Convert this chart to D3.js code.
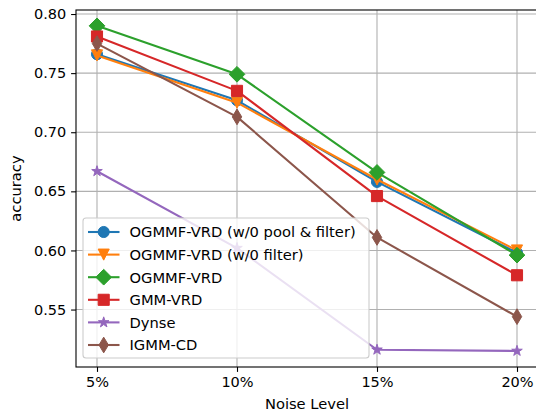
<!DOCTYPE html>
<html><head><meta charset="utf-8">
<script src="https://cdn.jsdelivr.net/npm/d3@7"></script>
<style>body{margin:0;background:#fff}svg{display:block}text{font-family:"DejaVu Sans",sans-serif;fill:#000}</style>
</head><body><svg id="c" width="536" height="412"></svg>
<script>
const categories = ["5%", "10%", "15%", "20%"];
const seriesNames = ["OGMMF-VRD (w/0 pool & filter)", "OGMMF-VRD (w/0 filter)", "OGMMF-VRD", "GMM-VRD", "Dynse", "IGMM-CD"];
const blueVals   = [0.766, 0.727, 0.658, 0.598];
const orangeVals = [0.765, 0.725, 0.660, 0.600];
const greenVals  = [0.790, 0.749, 0.666, 0.596];
const redVals    = [0.781, 0.735, 0.646, 0.579];
const purpleVals = [0.667, 0.602, 0.516, 0.515];
const brownVals  = [0.775, 0.713, 0.611, 0.544];
const yTicks = [0.55, 0.60, 0.65, 0.70, 0.75, 0.80];
const colors = ["#1f77b4", "#ff7f0e", "#2ca02c", "#d62728", "#9467bd", "#8c564b"];
const markers = ["o", "v", "D", "s", "*", "d"];
const allVals = [blueVals, orangeVals, greenVals, redVals, purpleVals, brownVals];

const svg = d3.select("#c");
const L = 76, R = 538, T = 10, B = 367;
const x = d3.scaleLinear().domain([-0.15, 3.15]).range([L, R]);
const y = d3.scaleLinear().domain([0.5014, 0.8034]).range([B, T]);
const FS = "14.7px", TFS = "14.5px";

const ms = 11.1;
function markerPath(m) {
  const h = ms / 2;
  switch (m) {
    case "o": return d3.symbol(d3.symbolCircle, Math.PI * h * h)();
    case "s": return `M${-h},${-h}L${h},${-h}L${h},${h}L${-h},${h}Z`;
    case "v": return `M0,${h}L${-h},${-h}L${h},${-h}Z`;
    case "D": { const d = h * Math.SQRT2; return `M0,${-d}L${d},0L0,${d}L${-d},0Z`; }
    case "d": { const d = h * Math.SQRT2, w = d * 0.6; return `M0,${-d}L${w},0L0,${d}L${-w},0Z`; }
    case "*": {
      const ro = h, ri = h * 0.381966; let p = "";
      for (let i = 0; i < 10; i++) {
        const r = i % 2 ? ri : ro, a = -Math.PI / 2 + i * Math.PI / 5;
        p += (i ? "L" : "M") + (r * Math.cos(a)).toFixed(3) + "," + (r * Math.sin(a)).toFixed(3);
      }
      return p + "Z";
    }
  }
}

// grid
const g = svg.append("g");
g.selectAll(".gx").data(categories).join("line")
  .attr("x1", (d, i) => x(i)).attr("x2", (d, i) => x(i)).attr("y1", T).attr("y2", B)
  .attr("stroke", "#b0b0b0").attr("stroke-width", 1.1);
g.selectAll(".gy").data(yTicks).join("line")
  .attr("x1", L).attr("x2", R).attr("y1", d => y(d)).attr("y2", d => y(d))
  .attr("stroke", "#b0b0b0").attr("stroke-width", 1.1);

// axes
const xAxis = d3.axisBottom(x).tickValues([0, 1, 2, 3]).tickFormat(i => categories[i]).tickSize(4.9).tickPadding(4.9);
const yAxis = d3.axisLeft(y).tickValues(yTicks).tickFormat(d3.format(".2f")).tickSize(4.9).tickPadding(4.9);
const gx = svg.append("g").attr("transform", `translate(0,${B})`).call(xAxis);
const gy = svg.append("g").attr("transform", `translate(${L},0)`).call(yAxis);
[gx, gy].forEach(a => {
  a.select(".domain").remove();
  a.selectAll("line").attr("stroke", "#000").attr("stroke-width", 1.1);
  a.selectAll("text").attr("font-size", TFS).attr("font-family", "DejaVu Sans").attr("fill", "#000");
});
gx.selectAll("text").attr("dy", "0.71em");

// lines + markers
const line = d3.line().x((d, i) => x(i)).y(d => y(d));
allVals.forEach((vals, k) => {
  const s = svg.append("g");
  s.append("path").attr("d", line(vals)).attr("fill", "none").attr("stroke", colors[k]).attr("stroke-width", 2.08).attr("stroke-linejoin", "round");
  s.selectAll("path.m").data(vals).join("path").attr("class", "m")
    .attr("d", markerPath(markers[k])).attr("transform", (d, i) => `translate(${x(i)},${y(d)})`)
    .attr("fill", colors[k]).attr("stroke", colors[k]).attr("stroke-width", 1);
});

// spines
svg.append("rect").attr("x", L).attr("y", T).attr("width", R - L).attr("height", B - T)
  .attr("fill", "none").attr("stroke", "#000").attr("stroke-width", 1.1);

// legend
const lg = svg.append("g");
lg.append("rect").attr("x", 83).attr("y", 218).attr("width", 286).attr("height", 140).attr("rx", 3)
  .attr("fill", "rgba(255,255,255,0.8)").attr("stroke", "#cccccc").attr("stroke-width", 1.1);
seriesNames.forEach((name, k) => {
  const yy = 232 + k * 22.6;
  lg.append("line").attr("x1", 88).attr("x2", 119.5).attr("y1", yy).attr("y2", yy).attr("stroke", colors[k]).attr("stroke-width", 2.08);
  lg.append("path").attr("d", markerPath(markers[k])).attr("transform", `translate(103.7,${yy})`).attr("fill", colors[k]).attr("stroke", colors[k]).attr("stroke-width", 1);
  lg.append("text").attr("x", 129.5).attr("y", yy + 5.3).attr("font-size", FS).text(name);
});

// axis labels
svg.append("text").attr("x", (L + R) / 2).attr("y", 408.5).attr("text-anchor", "middle").attr("font-size", FS).text("Noise Level");
svg.append("text").attr("transform", `translate(20.5,${(T + B) / 2}) rotate(-90)`).attr("text-anchor", "middle").attr("font-size", FS).text("accuracy");
</script></body></html>
